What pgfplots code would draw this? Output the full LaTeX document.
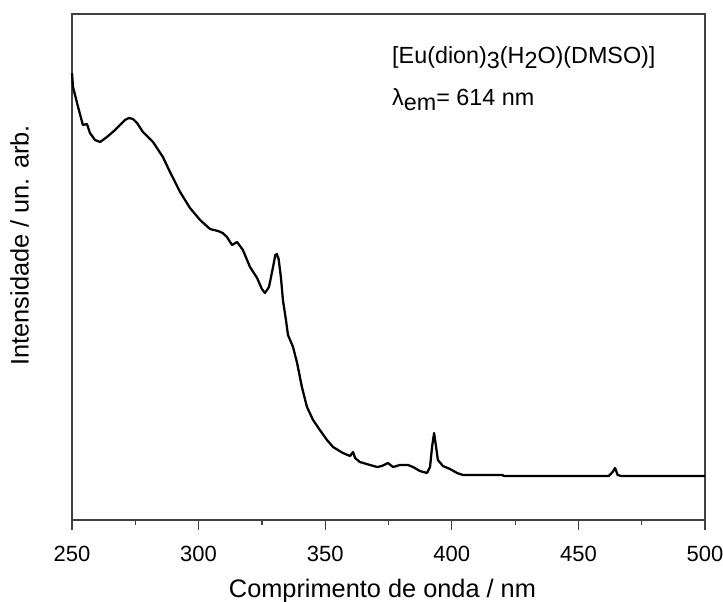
\documentclass[border=0pt]{standalone}
\usepackage{fontspec}
\setmainfont{Liberation Sans}
\usepackage{pgfplots}
\pgfplotsset{compat=1.18}
\begin{document}
\begin{tikzpicture}
\useasboundingbox (-54pt,-60.75pt) rectangle (488.25pt,390pt);
\begin{axis}[
  at={(0pt,0pt)}, anchor=south west,
  scale only axis,
  width=474.75pt, height=379.5pt,
  xmin=250, xmax=500, ymin=0, ymax=506,
  axis line style={line width=0.9pt, black!75},
  xtick={250,300,350,400,450,500},
  minor x tick num=1,
  xtick pos=bottom,
  ytick=\empty,
  tick align=outside,
  major tick length=7.5pt,
  minor tick length=3.5pt,
  every tick/.style={line width=0.9pt, black!75},
  /pgf/number format/assume math mode=true,
  tick label style={font=\fontsize{16.5}{19}\selectfont},
  xticklabel style={anchor=base, yshift=-23.5pt},
  xlabel={Comprimento de onda / nm},
  ylabel={Intensidade / un. arb.},
  label style={font=\fontsize{19}{22}\selectfont},
  xlabel style={at={(axis description cs:0.4905,-0.153)}, anchor=base},
  ylabel style={at={(axis description cs:-0.083,0.543)}, anchor=center},
  clip=false,
]
\addplot[black, line width=1.7pt, line join=round] coordinates {
(250,447) (250.4,433) (252.4,413) (254.3,395) (255.9,396) (257.1,387)
(259.1,380) (261.1,378) (263.8,383) (267.0,390) (270.9,400) (272.5,402)
(274.1,401) (275.7,397) (278.0,388) (282.0,378) (285.9,363) (288.7,348)
(292.7,328) (296.6,312) (300.6,300) (304.5,291) (307.7,289) (309.5,287)
(311.2,283) (313.2,275) (315.2,278) (317.5,270) (320.3,253) (323.1,242)
(325.0,231) (326.2,227) (327.8,233) (329.4,253) (330.3,265) (330.9,266)
(331.6,261) (332.5,243) (333.3,220) (334.5,200) (335.3,185) (337.3,173)
(338.9,157) (340.8,133) (342.8,113) (345.2,100) (347.9,90) (350.7,80)
(353.1,73) (357.0,67) (359.8,64) (361.0,68) (361.8,62) (363.7,58)
(367.7,55) (370.5,53) (372.4,54) (374.8,57) (376.8,53) (379.5,55)
(382.7,55) (384.7,53) (387.4,49) (390.2,47) (391.4,53) (392.2,73)
(393.0,87) (393.8,73) (394.5,60) (396.5,54) (399.3,51) (402.1,47)
(404.4,45) (411.1,45) (420,45) (420.5,44) (462,44) (463.5,48)
(464.5,52) (465.5,45) (467,44) (500,44)
};
\node[anchor=base west, font=\fontsize{17.5}{20}\selectfont, inner sep=0pt]
  at (axis description cs:0.5055,0.903)
  {[Eu(dion)\raisebox{-3.75pt}{3}(H\raisebox{-3.75pt}{2}O)(DMSO)]};
\node[anchor=base west, font=\fontsize{17.5}{20}\selectfont, inner sep=0pt]
  at (axis description cs:0.5055,0.82)
  {λ\raisebox{-3.75pt}{em}= 614 nm};
\end{axis}
\end{tikzpicture}
\end{document}
